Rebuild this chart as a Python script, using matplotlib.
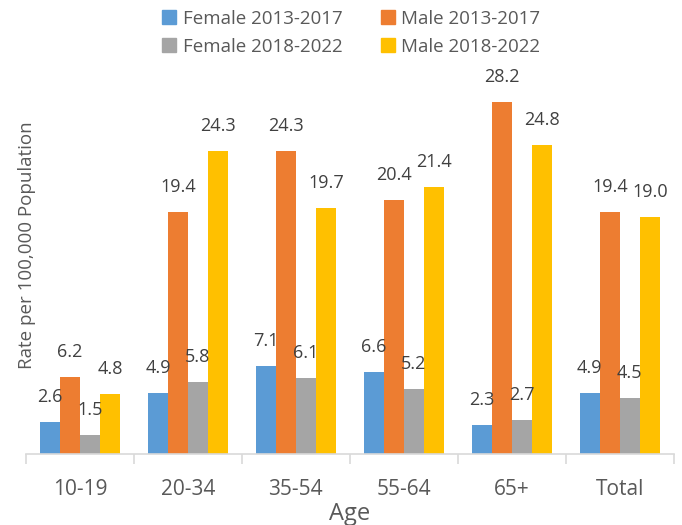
import numpy as np
import matplotlib.pyplot as plt
from matplotlib.patches import Patch

# data
age_groups = ['10-19', '20-34', '35-54', '55-64', '65+', 'Total']
female_13_17 = [2.6, 4.9, 7.1, 6.6, 2.3, 4.9]
male_13_17 = [6.2, 19.4, 24.3, 20.4, 28.2, 19.4]
female_18_22 = [1.5, 5.8, 6.1, 5.2, 2.7, 4.5]
male_18_22 = [4.8, 24.3, 19.7, 21.4, 24.8, 19.0]

series = [
    ('Female 2013-2017', female_13_17, '#5b9bd5'),
    ('Male 2013-2017', male_13_17, '#ed7d31'),
    ('Female 2018-2022', female_18_22, '#a5a5a5'),
    ('Male 2018-2022', male_18_22, '#ffc000'),
]

plt.rcParams['font.family'] = ['Open Sans', 'DejaVu Sans']
text_col = '#595959'

fig = plt.figure(figsize=(6.82, 5.25), dpi=100)
ax = fig.add_axes([0.038, 0.135, 0.95, 0.713])

x = np.arange(len(age_groups))
w = 0.185
for i, (name, vals, col) in enumerate(series):
    pos = x + (i - 1.5) * w
    ax.bar(pos, vals, width=w, color=col, label=name)
    for px, v in zip(pos, vals):
        ax.annotate(f'{v:.1f}', (px, v), xytext=(0, 18), textcoords='offset points',
                    ha='center', va='center', fontsize=13, color='#404040')

ax.set_xlim(-0.5, len(age_groups) - 0.5)
ax.set_ylim(0, 30)
ax.set_yticks([])
ax.set_xticks(x)
ax.set_xticklabels(age_groups, fontsize=15, color=text_col)
ax.set_xticks(np.arange(-0.5, len(age_groups)), minor=True)
ax.tick_params(axis='x', which='major', length=0, pad=18)
ax.tick_params(axis='x', which='minor', length=7, color='#d9d9d9', width=1.2)
for s in ['top', 'right', 'left']:
    ax.spines[s].set_visible(False)
ax.spines['bottom'].set_color('#d9d9d9')
ax.spines['bottom'].set_linewidth(1.2)

ax.set_xlabel('Age', fontsize=17, color=text_col, labelpad=1)
fig.text(0.04, 0.533, 'Rate per 100,000 Population', rotation=90, ha='center', va='center',
         fontsize=13.5, color=text_col)

handles = [Patch(color=c) for _, _, c in series]
labels = [n for n, _, _ in series]
order = [0, 2, 1, 3]
fig.legend([handles[i] for i in order], [labels[i] for i in order], ncol=2,
           loc='upper center', bbox_to_anchor=(0.515, 1.014), frameon=False,
           fontsize=13.5, labelcolor=text_col, handlelength=0.75, handleheight=0.75,
           handletextpad=0.35, columnspacing=2.05, labelspacing=0.55)

fig.savefig('out.png', dpi=100)
